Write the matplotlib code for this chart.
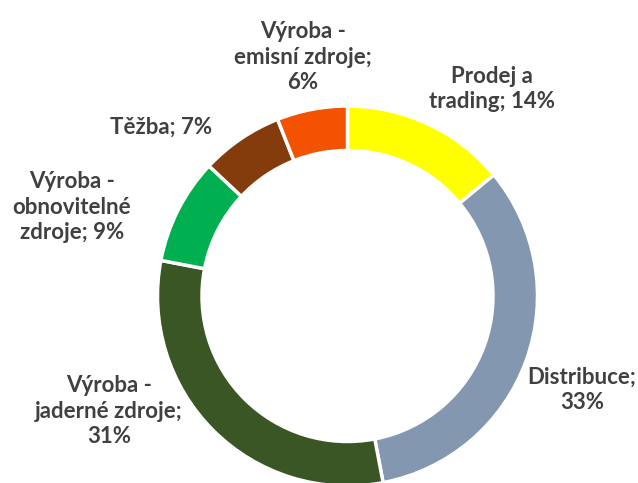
import matplotlib
matplotlib.use("Agg")
import matplotlib.pyplot as plt

# data, clockwise from the top
labels = ["Prodej a\ntrading; 14%", "Distribuce;\n33%", "Výroba -\njaderné zdroje;\n31%",
          "Výroba -\nobnovitelné\nzdroje; 9%", "Těžba; 7%", "Výroba -\nemisní zdroje;\n6%"]
shares = [14, 33, 31, 9, 7, 6]
colors = ["#FFFF00", "#8497B0", "#3A5624", "#00B050", "#843C0C", "#F35200"]

# label centres in pixel coords (x, y from top)
label_pos = [(492, 89), (582, 390), (109, 411), (72, 207), (161, 127), (303, 57)]

W, H = 638, 483
fig = plt.figure(figsize=(W / 100, H / 100), dpi=100)
ax = fig.add_axes([0, 0, 1, 1])

cx, cy = 347.5, H - 296
R = 190
ax.pie(shares, colors=colors, startangle=90, counterclock=False,
       radius=R, center=(cx, cy),
       wedgeprops=dict(width=44.5, edgecolor="white", linewidth=2.5))

for lab, (x, y) in zip(labels, label_pos):
    ax.text(x, H - y, lab, ha="center", va="center", fontsize=16,
            fontfamily="Lato", fontweight="bold", color="#404040",
            linespacing=1.25)

ax.set_xlim(0, W)
ax.set_ylim(0, H)
ax.set_aspect("equal")
ax.axis("off")

fig.savefig("out.png", dpi=100, facecolor="white")
